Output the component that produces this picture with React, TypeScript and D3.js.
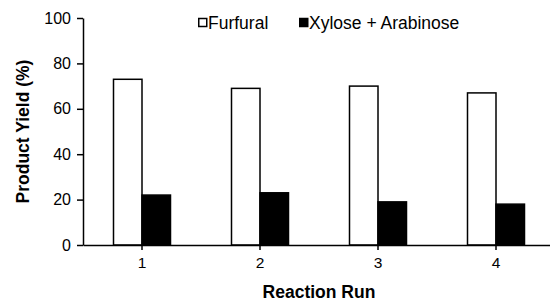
import React, { useEffect, useRef } from 'react';
import * as d3 from 'd3';

const runs = ['1', '2', '3', '4'];
const furfural = [73, 69, 70, 67];
const xyloseArabinose = [22, 23, 19, 18];
const yTicks = [0, 20, 40, 60, 80, 100];

const App = () => {
  const svgRef = useRef<SVGSVGElement>(null);

  useEffect(() => {
    const svg = d3.select(svgRef.current);
    svg.selectAll('*').remove(); // Clear previous chart

    const width = 550;
    const height = 301;
    const margin = { top: 18, right: -5, bottom: 56, left: 83 };
    const font = 'Liberation Sans, Arial, sans-serif';

    const xScale = d3.scaleBand()
      .domain(runs)
      .range([margin.left, width - margin.right]);

    const yScale = d3.scaleLinear()
      .domain([0, 100])
      .range([height - margin.bottom, margin.top]);

    const barW = 28.5;
    const series = [
      { name: 'Furfural', values: furfural, fill: '#fff', offset: -barW },
      { name: 'Xylose + Arabinose', values: xyloseArabinose, fill: '#000', offset: 0 },
    ];

    series.forEach(s => {
      svg.append('g')
        .selectAll('rect')
        .data(s.values)
        .enter().append('rect')
        .attr('x', (d, i) => xScale(runs[i])! + xScale.bandwidth() / 2 + s.offset)
        .attr('y', d => yScale(d))
        .attr('width', barW)
        .attr('height', d => yScale(0) - yScale(d))
        .attr('fill', s.fill)
        .attr('stroke', '#000')
        .attr('stroke-width', 1.5);
    });

    // Axes
    const yAxis = svg.append('g')
      .attr('transform', `translate(${margin.left}, 0)`)
      .call(d3.axisLeft(yScale).tickValues(yTicks).tickSize(6).tickSizeOuter(0));
    yAxis.select('.domain').attr('stroke-width', 1.5);
    yAxis.selectAll('line').attr('stroke-width', 1.5);
    yAxis.selectAll('text')
      .attr('font-family', font)
      .attr('font-size', 16)
      .attr('fill', '#000')
      .attr('x', -12);

    const xAxis = svg.append('g')
      .attr('transform', `translate(0, ${yScale(0)})`)
      .call(d3.axisBottom(xScale).tickSize(5).tickSizeOuter(0));
    xAxis.select('.domain').attr('stroke-width', 1.5);
    xAxis.selectAll('line').attr('stroke-width', 1.5);
    xAxis.selectAll('text')
      .attr('font-family', font)
      .attr('font-size', 15.5)
      .attr('fill', '#000')
      .attr('y', 12);

    // Axis titles
    svg.append('text')
      .attr('x', 319)
      .attr('y', 298)
      .attr('text-anchor', 'middle')
      .attr('font-family', font)
      .attr('font-size', 17.5)
      .attr('font-weight', 'bold')
      .text('Reaction Run');

    svg.append('text')
      .attr('transform', `translate(29, ${(yScale(0) + yScale(100)) / 2}) rotate(-90)`)
      .attr('text-anchor', 'middle')
      .attr('font-family', font)
      .attr('font-size', 17.5)
      .attr('font-weight', 'bold')
      .text('Product Yield (%)');

    // Legend
    const legendX = [198, 299];
    series.forEach((s, i) => {
      svg.append('rect')
        .attr('x', legendX[i] + 0.75)
        .attr('y', 18.5)
        .attr('width', 8)
        .attr('height', 8)
        .attr('fill', s.fill)
        .attr('stroke', '#000')
        .attr('stroke-width', 1.5);
      svg.append('text')
        .attr('x', legendX[i] + 10)
        .attr('y', 28.5)
        .attr('font-family', font)
        .attr('font-size', 17.5)
        .attr('fill', '#000')
        .text(s.name);
    });
  }, []);

  return (
    <svg ref={svgRef} width={550} height={301} style={{ position: 'absolute', left: 0, top: 0 }}></svg>
  );
};

export default App;
